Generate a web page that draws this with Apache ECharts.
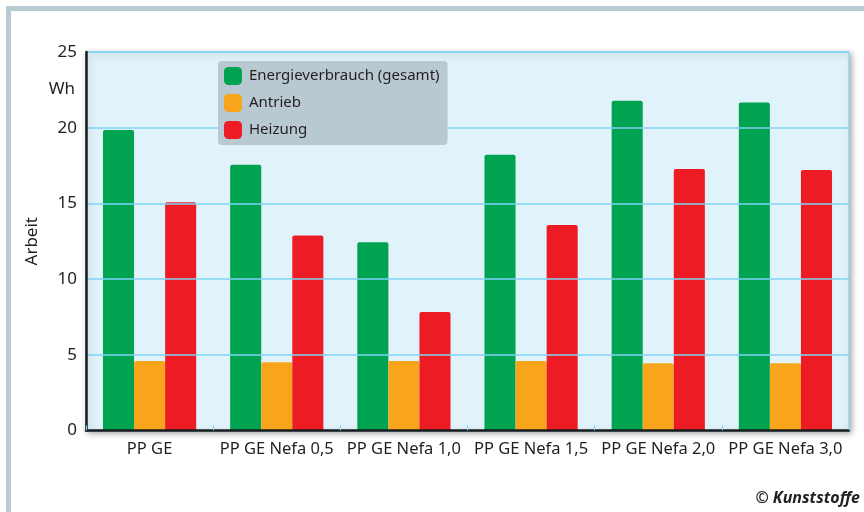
<!DOCTYPE html>
<html>
<head>
<meta charset="utf-8">
<script src="https://cdn.jsdelivr.net/npm/echarts@6/dist/echarts.min.js"></script>
<style>
  html, body { margin: 0; padding: 0; background: #ffffff; }
  #chart { width: 864px; height: 512px; }
</style>
</head>
<body>
<div id="chart"></div>
<script>
// Arbeit je Variante, in Wh
const categories = ['PP GE', 'PP GE Nefa 0,5', 'PP GE Nefa 1,0', 'PP GE Nefa 1,5', 'PP GE Nefa 2,0', 'PP GE Nefa 3,0'];
const energieGesamt = [19.84, 17.55, 12.44, 18.21, 21.78, 21.67];
const antrieb = [4.59, 4.51, 4.59, 4.59, 4.44, 4.44];
const heizung = [15.08, 12.88, 7.83, 13.58, 17.28, 17.2];
const seriesNames = ['Energieverbrauch (gesamt)', 'Antrieb', 'Heizung'];
const yTicks = [0, 5, 10, 15, 20, 25];

const FONT = '"Noto Sans", "Open Sans", sans-serif';
const TEXT = '#231f20';
const FRAME = '#b9cad3';

const chart = echarts.init(document.getElementById('chart'), null, { renderer: 'canvas' });

function barSeries(name, data, color) {
  return {
    name: name,
    type: 'bar',
    data: data,
    barGap: '0%',
    barCategoryGap: '26.7%',
    itemStyle: { color: color, borderRadius: [2, 2, 0, 0] },
    emphasis: { disabled: true },
    animation: false
  };
}

chart.setOption({
  backgroundColor: '#ffffff',
  animation: false,
  textStyle: { fontFamily: FONT, color: TEXT },
  grid: {
    left: 86, top: 52, right: 15, bottom: 81.5,
    show: true,
    backgroundColor: '#e0f2fa',
    borderColor: '#7fd3f5',
    borderWidth: 1,
    shadowColor: 'rgba(0,0,0,0.35)',
    shadowBlur: 6,
    shadowOffsetX: 2,
    shadowOffsetY: 2
  },
  legend: {
    orient: 'vertical',
    left: 218, top: 61,
    width: 229,
    padding: [6, 8, 6, 6],
    backgroundColor: '#b9c9d1',
    borderRadius: 4,
    itemWidth: 18, itemHeight: 18, itemGap: 9,
    icon: 'roundRect',
    selectedMode: false,
    z: 20,
    data: seriesNames,
    textStyle: { fontFamily: FONT, fontSize: 15, color: TEXT, padding: [0, 0, 0, 2] }
  },
  xAxis: {
    type: 'category',
    data: categories,
    axisLine: { show: true, lineStyle: { color: '#1a1a1a', width: 2.5 } },
    axisTick: { show: true, inside: true, length: 5, lineStyle: { color: '#7fd3f5', width: 1 } },
    axisLabel: { interval: 0, fontFamily: FONT, fontSize: 16.5, color: TEXT, margin: 10 },
    z: 5
  },
  yAxis: {
    type: 'value',
    min: yTicks[0], max: yTicks[yTicks.length - 1], interval: 5,
    name: 'Arbeit',
    nameLocation: 'middle',
    nameRotate: 90,
    nameGap: 45,
    nameTextStyle: { fontFamily: FONT, fontSize: 17, color: TEXT },
    axisLine: { show: true, lineStyle: { color: '#1a1a1a', width: 2.5 } },
    axisTick: { show: false },
    axisLabel: { fontFamily: FONT, fontSize: 17, color: TEXT, margin: 9 },
    splitLine: { show: true, lineStyle: { color: '#7fd3f5', width: 1.5 } },
    z: 5
  },
  series: [
    barSeries(seriesNames[0], energieGesamt, '#00a34f'),
    barSeries(seriesNames[1], antrieb, '#f8a51b'),
    barSeries(seriesNames[2], heizung, '#ed1c24')
  ],
  graphic: [
    { type: 'rect', left: 6, top: 6, shape: { width: 858, height: 5 }, style: { fill: FRAME }, silent: true },
    { type: 'rect', left: 6, top: 6, shape: { width: 5, height: 506 }, style: { fill: FRAME }, silent: true },
    { type: 'text', right: 789, top: 81, style: { text: 'Wh', font: '17px ' + FONT, fill: TEXT, align: 'right' }, silent: true },
    { type: 'text', right: 4, top: 490, style: { text: '© Kunststoffe', font: 'italic bold 16px ' + FONT, fill: TEXT }, silent: true }
  ]
});
</script>
</body>
</html>
